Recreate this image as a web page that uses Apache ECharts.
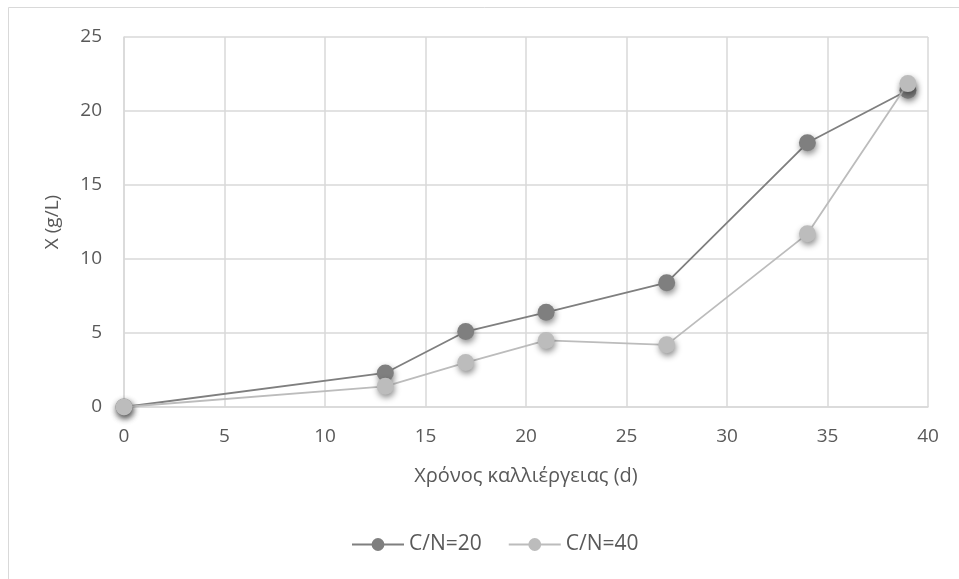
<!DOCTYPE html>
<html>
<head>
<meta charset="utf-8">
<script src="https://cdn.jsdelivr.net/npm/echarts@6/dist/echarts.min.js"></script>
<style>
  html, body { margin: 0; padding: 0; background: #fff; }
  #chart { width: 959px; height: 579px; }
</style>
</head>
<body>
<div id="chart"></div>
<script>
// Biomass concentration over cultivation time for two C/N ratios
const days = [0, 13, 17, 21, 27, 34, 39];
const cn20 = [0, 2.3, 5.1, 6.4, 8.4, 17.85, 21.4];
const cn40 = [0, 1.4, 3.0, 4.5, 4.2, 11.7, 21.85];
const seriesNames = ['C/N=20', 'C/N=40'];
const xTitle = 'Χρόνος καλλιέργειας (d)';
const yTitle = 'X (g/L)';

const FONT = '"Open Sans", "Noto Sans", sans-serif';
const TEXT = '#595959';
const GRID = '#d9d9d9';

function pairs(xs, ys) { return xs.map((x, i) => [x, ys[i]]); }

function lineSeries(name, values, color, z) {
  return {
    name: name,
    type: 'line',
    data: pairs(days, values),
    symbol: 'circle',
    symbolSize: 17,
    z: z,
    lineStyle: { color: color, width: 1.8 },
    itemStyle: {
      color: color,
      shadowColor: 'rgba(0,0,0,0.45)',
      shadowBlur: 6,
      shadowOffsetX: 1,
      shadowOffsetY: 3
    },
    emphasis: { disabled: true },
    animation: false
  };
}

const chart = echarts.init(document.getElementById('chart'), null, { renderer: 'canvas' });
chart.setOption({
  backgroundColor: '#ffffff',
  textStyle: { fontFamily: FONT },
  graphic: [{
    type: 'rect',
    shape: { x: 8.5, y: 7.5, width: 1000, height: 1000 },
    style: { fill: 'none', stroke: GRID, lineWidth: 1 },
    silent: true,
    z: -10
  }],
  grid: { left: 124, right: 31, top: 37, bottom: 172, containLabel: false },
  xAxis: {
    type: 'value',
    min: 0, max: 40, interval: 5,
    name: xTitle,
    nameLocation: 'middle',
    nameGap: 59,
    nameTextStyle: { color: TEXT, fontSize: 20, fontFamily: FONT },
    axisLine: { show: true, lineStyle: { color: GRID, width: 1.5 } },
    axisTick: { show: false },
    axisLabel: { color: TEXT, fontSize: 19, margin: 20, fontFamily: FONT },
    splitLine: { show: true, lineStyle: { color: GRID, width: 1.5 } }
  },
  yAxis: {
    type: 'value',
    min: 0, max: 25, interval: 5,
    name: yTitle,
    nameLocation: 'middle',
    nameGap: 62,
    nameRotate: 90,
    nameTextStyle: { color: TEXT, fontSize: 19, fontFamily: FONT },
    axisLine: { show: true, lineStyle: { color: GRID, width: 1.5 } },
    axisTick: { show: false },
    axisLabel: { color: TEXT, fontSize: 19, margin: 22, fontFamily: FONT },
    splitLine: { show: true, lineStyle: { color: GRID, width: 1.5 } }
  },
  legend: {
    data: seriesNames,
    bottom: 19,
    left: 346,
    itemWidth: 52,
    itemHeight: 16,
    itemGap: 26,
    textStyle: { color: TEXT, fontSize: 21, fontFamily: FONT }
  },
  series: [
    lineSeries(seriesNames[0], cn20, '#7f7f7f', 3),
    lineSeries(seriesNames[1], cn40, '#bcbcbc', 4)
  ]
});
</script>
</body>
</html>
